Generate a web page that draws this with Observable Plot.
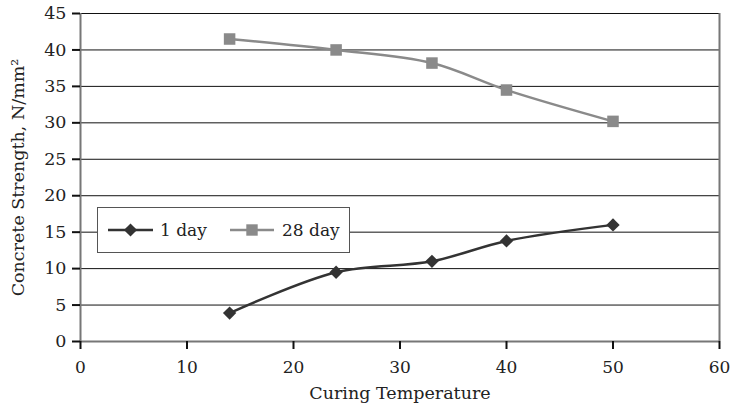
<!DOCTYPE html>
<html><head><meta charset="utf-8">
<script src="https://cdn.jsdelivr.net/npm/d3@7"></script>
<script src="https://cdn.jsdelivr.net/npm/@observablehq/plot@0.6"></script>
<style>
body{margin:0;background:#fff;}
#wrap{position:relative;width:731px;height:410px;font-family:"DejaVu Serif",serif;}
#legend{position:absolute;left:97px;top:207px;width:253px;height:46px;border:1.5px solid #555;background:#fff;box-sizing:border-box;color:#222;}
#legend svg{position:absolute;left:0;top:0;}
</style></head>
<body><div id="wrap"><div id="legend"></div></div>
<script>
const temperature = [14, 24, 33, 40, 50];
const day1 = [3.9, 9.5, 11.0, 13.8, 16.0];
const day28 = [41.5, 40.0, 38.2, 34.5, 30.2];
const xTicks = [0, 10, 20, 30, 40, 50, 60];
const yTicks = [0, 5, 10, 15, 20, 25, 30, 35, 40, 45];
const seriesNames = ["1 day", "28 day"];
const colors = ["#333333", "#8a8a8a"];
const FONT = '"DejaVu Serif",serif';

const d1 = temperature.map((t, i) => ({t, v: day1[i]}));
const d28 = temperature.map((t, i) => ({t, v: day28[i]}));

const chart = Plot.plot({
  width: 731, height: 410,
  marginLeft: 80, marginRight: 12, marginTop: 13, marginBottom: 69,
  style: {fontFamily: FONT, fontSize: "17px", color: "#222", background: "#fff"},
  x: {domain: [0, 60], ticks: xTicks, label: null},
  y: {domain: [0, 45], ticks: yTicks, label: null},
  marks: [
    Plot.ruleY(yTicks.filter(d => d > 0), {stroke: "#111", strokeWidth: 1}),
    Plot.ruleX([0, 60], {stroke: "#777", strokeWidth: 2}),
    Plot.ruleY([0], {stroke: "#777", strokeWidth: 2}),
    Plot.axisX({ticks: xTicks, tickSize: 8, tickPadding: 11, stroke: "#111", strokeWidth: 2, fontSize: 17, fill: "#222", label: null}),
    Plot.axisY({ticks: yTicks, tickSize: 8, tickPadding: 6, stroke: "#111", strokeWidth: 2, fontSize: 17.5, fill: "#222", label: null}),
    Plot.line(d28, {x: "t", y: "v", stroke: colors[1], strokeWidth: 2.5, curve: "catmull-rom"}),
    Plot.dot(d28, {x: "t", y: "v", symbol: "square", fill: colors[1], r: 6.5}),
    Plot.line(d1, {x: "t", y: "v", stroke: colors[0], strokeWidth: 2.5, curve: "catmull-rom"}),
    Plot.dot(d1, {x: "t", y: "v", symbol: "diamond2", fill: colors[0], r: 6}),
    Plot.text(["Curing Temperature"], {frameAnchor: "bottom", dy: 57, fontSize: 17.5, fill: "#222"}),
    Plot.text(["Concrete Strength, N/mm²"], {frameAnchor: "left", dx: -62, rotate: -90, textAnchor: "middle", fontSize: 17.5, fill: "#222"})
  ]
});
document.getElementById("wrap").prepend(chart);

// legend
const lg = d3.select("#legend").append("svg").attr("width", 253).attr("height", 46);
const items = [{x0: 10, x1: 55, tx: 62, sym: d3.symbolDiamond2, size: 110}, {x0: 132, x1: 176, tx: 184, sym: d3.symbolSquare, size: 130}];
items.forEach((it, i) => {
  const g = lg.append("g");
  g.append("line").attr("x1", it.x0).attr("x2", it.x1).attr("y1", 22).attr("y2", 22).attr("stroke", colors[i]).attr("stroke-width", 2.5);
  g.append("path").attr("d", d3.symbol(it.sym, it.size)()).attr("transform", `translate(${(it.x0 + it.x1) / 2},22)`).attr("fill", colors[i]);
  g.append("text").attr("x", it.tx).attr("y", 28).attr("font-size", 17).attr("font-family", FONT).attr("fill", "#222").text(seriesNames[i]);
});
</script></body></html>
